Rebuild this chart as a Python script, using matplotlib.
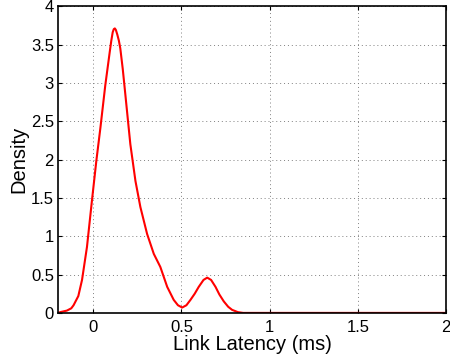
import matplotlib.pyplot as plt

plt.rcParams['font.family'] = ['Liberation Sans', 'DejaVu Sans']

# density curve
latency = [-0.2, -0.188, -0.15, -0.125, -0.112, -0.085, -0.064, -0.036, -0.008, 0.017,
           0.04, 0.068, 0.093, 0.102, 0.11, 0.116, 0.122, 0.128, 0.136, 0.145,
           0.153, 0.167, 0.182, 0.21, 0.239, 0.267, 0.305, 0.343, 0.38, 0.419,
           0.456, 0.48, 0.504, 0.528, 0.551, 0.575, 0.598, 0.625, 0.646, 0.668,
           0.693, 0.715, 0.74, 0.765, 0.787, 0.82, 0.85, 1.0, 1.5, 2.0]
density = [0.0, 0.01, 0.03, 0.06, 0.1, 0.22, 0.43, 0.86, 1.46, 1.98,
           2.41, 2.97, 3.40, 3.55, 3.66, 3.70, 3.71, 3.69, 3.63, 3.55,
           3.45, 3.18, 2.84, 2.20, 1.72, 1.38, 1.03, 0.77, 0.60, 0.34,
           0.17, 0.10, 0.07, 0.10, 0.17, 0.25, 0.34, 0.43, 0.46, 0.43,
           0.34, 0.24, 0.15, 0.08, 0.04, 0.01, 0.0, 0.0, 0.0, 0.0]

fig = plt.figure(figsize=(4.5, 3.63), dpi=100)
ax = fig.add_axes([0.129, 0.138, 0.862, 0.845])
ax.plot(latency, density, color='r', linewidth=1.5)
ax.set_xlim(-0.2, 2)
ax.set_ylim(0, 4)
ax.set_xticks([0, 0.5, 1, 1.5, 2])
ax.set_xticklabels(['0', '0.5', '1', '1.5', '2'])
ax.set_yticks([0, 0.5, 1, 1.5, 2, 2.5, 3, 3.5, 4])
ax.set_yticklabels(['0', '0.5', '1', '1.5', '2', '2.5', '3', '3.5', '4'])
ax.grid(True, linestyle=(0, (1, 3)), color='gray', linewidth=0.7)
ax.tick_params(direction='in', top=True, right=True, labelsize=12, length=3, pad=3)
ax.tick_params(axis='x', pad=5)
for s in ax.spines.values():
    s.set_linewidth(1.2)
ax.set_xlabel('Link Latency (ms)', fontsize=14.5, labelpad=0)
ax.set_ylabel('Density', fontsize=14.5, labelpad=2)

fig.savefig('out.png', dpi=100)
